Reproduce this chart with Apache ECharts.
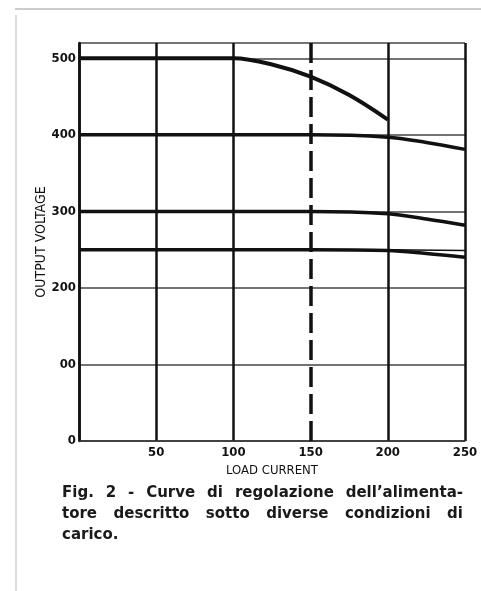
<!DOCTYPE html>
<html>
<head>
<meta charset="utf-8">
<script src="https://cdn.jsdelivr.net/npm/echarts@6/dist/echarts.min.js"></script>
<style>
  html, body { margin: 0; padding: 0; background: #fff; }
  #chart { width: 481px; height: 591px; }
</style>
</head>
<body>
<div id="chart"></div>
<script>
var mychart = echarts.init(document.getElementById('chart'));

// load current (x) ticks and output voltage (y) tick labels, as printed
const xTickLabels = { 50: '50', 100: '100', 150: '150', 200: '200', 250: '250' };
const yTickLabels = { 0: '0', 100: '00', 200: '200', 300: '300', 400: '400', 500: '500' };

// regulation curves [load current, output voltage]
const curve500 = [[0, 500], [100, 500], [125, 492], [150, 476], [175, 452], [200, 420]];
const curve400 = [[0, 400], [150, 400], [200, 397], [225, 390], [250, 381]];
const curve300 = [[0, 300], [150, 300], [200, 297], [225, 290], [250, 282]];
const curve250 = [[0, 250], [150, 250], [200, 249], [225, 245], [250, 240]];
const curve250b = [[200, 250], [250, 249]];
const limitCurrent = 150;

const captionLines = [
    ['Fig.', '2', '-', 'Curve', 'di', 'regolazione', 'dell\u2019alimenta-'],
    ['tore', 'descritto', 'sotto', 'diverse', 'condizioni', 'di'],
    ['carico.']
];

const axisFont = "'Liberation Sans Narrow', 'DejaVu Sans Condensed', 'Roboto', sans-serif";
const captionFont = "bold 15px 'DejaVu Sans', sans-serif";

// justify caption words between left and right edges
var ctx = document.createElement('canvas').getContext('2d');
ctx.font = captionFont;
var capLeft = 62, capRight = 463, capTop = 486, capLine = 21;
var captionGraphics = [];
captionLines.forEach(function (words, li) {
    var widths = words.map(function (w) { return ctx.measureText(w).width; });
    var total = widths.reduce(function (a, b) { return a + b; }, 0);
    var last = li === captionLines.length - 1;
    var gap = last ? ctx.measureText(' ').width : (capRight - capLeft - total) / (words.length - 1);
    var x = capLeft;
    words.forEach(function (w, i) {
        captionGraphics.push({
            type: 'text',
            left: x,
            top: capTop + li * capLine,
            style: { text: w, font: captionFont, fill: '#1a1a1a' }
        });
        x += widths[i] + gap;
    });
});

function curve(data, width) {
    return {
        type: 'line',
        data: data,
        smooth: 0.35,
        showSymbol: false,
        lineStyle: { color: '#111', width: width },
        z: 3
    };
}

option = {
    backgroundColor: '#fff',
    animation: false,
    grid: {
        left: 79,
        right: 16,
        top: 43,
        bottom: 150,
        containLabel: false
    },
    xAxis: {
        type: 'value',
        min: 0,
        max: 250,
        interval: 50,
        name: 'LOAD CURRENT',
        nameLocation: 'middle',
        nameGap: 16,
        nameTextStyle: { fontFamily: axisFont, fontSize: 13, color: '#111' },
        axisLine: { show: true, lineStyle: { color: '#333', width: 1.5 } },
        axisTick: { show: false },
        axisLabel: {
            margin: 5,
            fontFamily: axisFont,
            fontSize: 13,
            fontWeight: 'bold',
            color: '#111',
            formatter: function (v) { return xTickLabels[v] || ''; }
        },
        splitLine: {
            show: true,
            lineStyle: {
                color: ['#111', '#111', '#111', 'rgba(0,0,0,0)', '#111', '#111'],
                width: 2.5
            }
        }
    },
    yAxis: {
        type: 'value',
        min: 0,
        max: 520,
        interval: 100,
        name: 'OUTPUT VOLTAGE',
        nameLocation: 'middle',
        nameGap: 31,
        nameRotate: 90,
        nameMoveOverlap: false,
        nameTextStyle: { fontFamily: axisFont, fontSize: 14, color: '#111' },
        axisLine: { show: true, lineStyle: { color: '#111', width: 2.5 } },
        axisTick: { show: false },
        axisLabel: {
            margin: 3,
            fontFamily: axisFont,
            fontSize: 13,
            fontWeight: 'bold',
            color: '#111',
            formatter: function (v) { return yTickLabels[v] || ''; }
        },
        splitLine: {
            show: true,
            lineStyle: { color: '#444', width: 1.5 }
        }
    },
    series: [
        Object.assign(curve(curve500, 4), {
            markLine: {
                silent: true,
                symbol: 'none',
                label: { show: false },
                lineStyle: { color: '#111', width: 3.5, type: [20, 7] },
                data: [{ xAxis: limitCurrent }]
            }
        }),
        curve(curve400, 3.5),
        curve(curve300, 3.5),
        curve(curve250, 3.5),
        curve(curve250b, 1.5)
    ],
    graphic: [
        { type: 'line', shape: { x1: 15, y1: 9, x2: 481, y2: 9 }, style: { stroke: '#999', lineWidth: 1 } },
        { type: 'line', shape: { x1: 16, y1: 15, x2: 16, y2: 591 }, style: { stroke: '#bbb', lineWidth: 1 } }
    ].concat(captionGraphics)
};
mychart.setOption(option, true);
</script>
</body>
</html>
